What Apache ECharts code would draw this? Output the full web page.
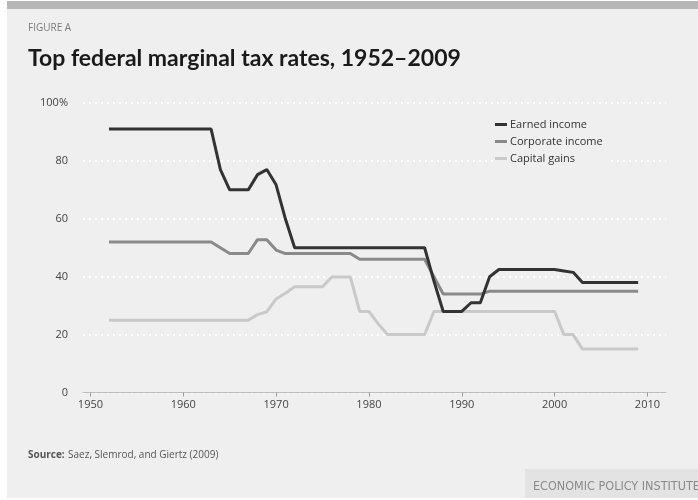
<!DOCTYPE html>
<html>
<head>
<meta charset="utf-8">
<script src="https://cdn.jsdelivr.net/npm/echarts@6/dist/echarts.min.js"></script>
<style>
html,body{margin:0;padding:0;background:#ffffff;}
#chart{width:698px;height:500px;}
</style>
</head>
<body>
<div id="chart"></div>
<script>
// Years 1952..2009
var years = [];
for (var y = 1952; y <= 2009; y++) years.push(y);

var earnedIncome = [
  91,91,91,91,91,91,91,91,91,91,91,91, // 1952-1963
  77,                                   // 1964
  70,70,70,                             // 1965-1967
  75.25,77,71.75,60,                    // 1968-1971
  50,50,50,50,50,50,50,50,50,50,50,50,50,50,50, // 1972-1986
  38.5,                                 // 1987
  28,28,28,                             // 1988-1990
  31,31,                                // 1991-1992
  40,                                   // 1993
  42.5,42.5,42.5,42.5,42.5,42.5,42.5,   // 1994-2000
  42,41.5,                              // 2001-2002
  38,38,38,38,38,38,38                  // 2003-2009
];
var corporateIncome = [
  52,52,52,52,52,52,52,52,52,52,52,52,  // 1952-1963
  50,                                   // 1964
  48,48,48,                             // 1965-1967
  52.8,52.8,                            // 1968-1969
  49.2,                                 // 1970
  48,48,48,48,48,48,48,48,              // 1971-1978
  46,46,46,46,46,46,46,46,              // 1979-1986
  40,                                   // 1987
  34,34,34,34,34,                       // 1988-1992
  35,35,35,35,35,35,35,35,35,35,35,35,35,35,35,35,35 // 1993-2009
];
var capitalGains = [
  25,25,25,25,25,25,25,25,25,25,25,25,25,25,25,25, // 1952-1967
  26.9,27.9,32.3,34.3,                  // 1968-1971
  36.5,36.5,36.5,36.5,                  // 1972-1975
  39.9,39.9,39.9,                       // 1976-1978
  28,28,                                // 1979-1980
  23.7,                                 // 1981
  20,20,20,20,20,                       // 1982-1986
  28,28,28,28,28,28,28,28,28,28,28,28,28,28, // 1987-2000
  20,20,                                // 2001-2002
  15,15,15,15,15,15,15                  // 2003-2009
];
var xTicks = [1950,1960,1970,1980,1990,2000,2010];
var seriesNames = ['Earned income','Corporate income','Capital gains'];

function pairs(vals){ return years.map(function(yr,i){ return [yr, vals[i]]; }); }

var chart = echarts.init(document.getElementById('chart'), null, {renderer:'canvas'});
var option = {
  backgroundColor: '#ffffff',
  animation: false,
  graphic: [
    {type:'rect', shape:{x:7,y:1,width:691,height:497}, style:{fill:'#efefef'}, z:-10},
    {type:'rect', shape:{x:7,y:1,width:691,height:8}, style:{fill:'#b7b7b7'}, z:-9},
    {type:'rect', shape:{x:525,y:469,width:173,height:29}, style:{fill:'#e3e3e3'}, z:-9},
    {type:'text', left:28, top:23, style:{text:'FIGURE A', fill:'#7a7a7a', font:'10px "Open Sans", sans-serif'}},
    {type:'text', left:28, top:47, style:{text:'Top federal marginal tax rates, 1952\u20132009', fill:'#1a1a1a', font:'bold 23px Lato, "Open Sans", sans-serif'}},
    {type:'text', left:28, top:449, style:{rich:{b:{fontWeight:'bold',fill:'#555',fontSize:10,fontFamily:'"Open Sans", sans-serif'},n:{fill:'#555',fontSize:10,fontFamily:'"Open Sans", sans-serif'}}, text:'{b|Source:} {n|Saez, Slemrod, and Giertz (2009)}'}},
    {type:'text', left:533, top:480, style:{text:'ECONOMIC POLICY INSTITUTE', fill:'#8a8a8a', font:'12.5px "Liberation Sans Narrow", "DejaVu Sans Condensed", sans-serif'}}
  ],
  grid: {left:83, right:32, top:103, bottom:107.5, containLabel:false},
  legend: {
    orient:'vertical', left:495, top:119,
    data: seriesNames,
    icon:'rect', itemWidth:12, itemHeight:3, itemGap:6,
    backgroundColor:'#efefef', padding:[0,4,0,0],
    textStyle:{color:'#333', fontSize:11, fontFamily:'"Open Sans", sans-serif', padding:[0,0,0,-2]}
  },
  xAxis: {
    type:'value', min:1949.2, max:2012,
    axisLine:{show:true, lineStyle:{color:'#bdbdbd', width:1}},
    axisTick:{show:true, customValues:xTicks, length:4, lineStyle:{color:'#9a9a9a'}},
    axisLabel:{customValues:xTicks, color:'#444', fontSize:11, margin:7, fontFamily:'"Open Sans", sans-serif',
      formatter:function(v){ return String(Math.round(v)); }},
    splitLine:{show:false}
  },
  yAxis: {
    type:'value', min:0, max:100, interval:20,
    axisLine:{show:false}, axisTick:{show:false},
    axisLabel:{color:'#444', fontSize:11, margin:15, fontFamily:'"Open Sans", sans-serif',
      formatter:function(v){ return v===100 ? '100%' : String(v); }},
    splitLine:{show:true, lineStyle:{color:'#ffffff', width:2, type:[2,4]}}
  },
  series: [
    {name:'Capital gains', type:'line', data:pairs(capitalGains), showSymbol:false, symbol:'none',
      lineStyle:{color:'#c9c9c9', width:3}, itemStyle:{color:'#c9c9c9'}, z:2},
    {name:'Corporate income', type:'line', data:pairs(corporateIncome), showSymbol:false, symbol:'none',
      lineStyle:{color:'#8a8a8a', width:3}, itemStyle:{color:'#8a8a8a'}, z:3},
    {name:'Earned income', type:'line', data:pairs(earnedIncome), showSymbol:false, symbol:'none',
      lineStyle:{color:'#333333', width:3}, itemStyle:{color:'#333333'}, z:4}
  ]
};
chart.setOption(option);
</script>
</body>
</html>
